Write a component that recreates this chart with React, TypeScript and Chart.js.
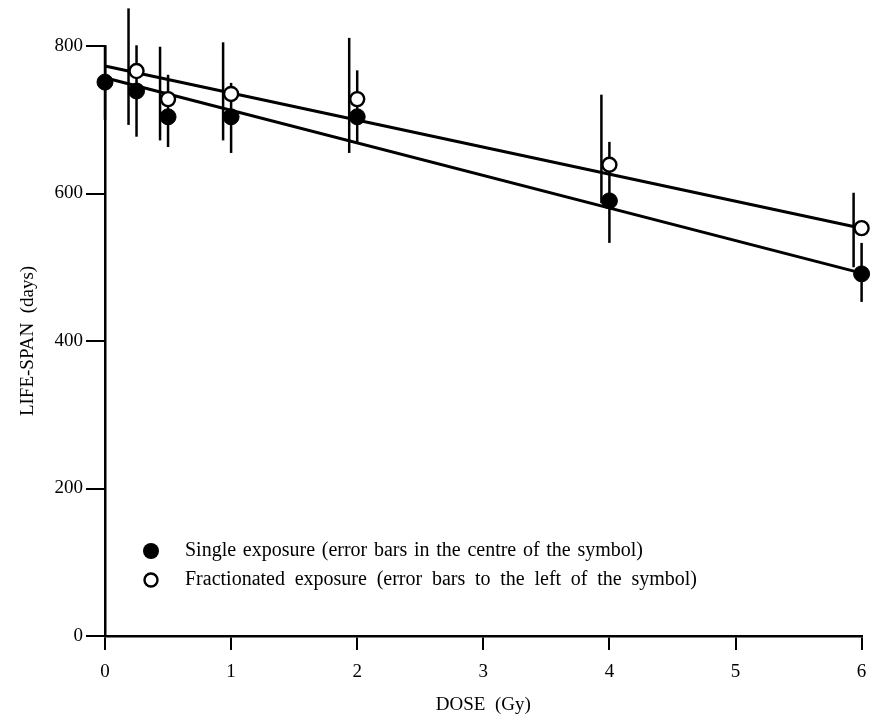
import React, { useEffect, useRef } from 'react';
import { Chart, registerables } from 'chart.js';

Chart.register(...registerables);

// ---- data ----
const doses = [0, 0.25, 0.5, 1, 2, 4, 6];
const singleMean = [751, 739, 704, 704, 704, 590, 491];
const singleUpper = [800, 801, 761, 750, 767, 670, 533];
const singleLower = [700, 677, 663, 655, 668, 533, 453];

const fracDoses = [0.25, 0.5, 1, 2, 4, 6];
const fracMean = [766, 728, 735, 728, 639, 553];
const fracUpper = [851, 799, 805, 811, 734, 601];
const fracLower = [693, 672, 672, 655, 587, 500];

const fitDoses = [0, 6];
const singleFit = [757, 492];
const fracFit = [773, 553];

const xTickValues = [0, 1, 2, 3, 4, 5, 6];
const yTickValues = [0, 200, 400, 600, 800];

const xTitle = 'DOSE  (Gy)';
const yTitle = 'LIFE-SPAN  (days)';
const legendLabels = [
  'Single exposure (error bars in the centre of the symbol)',
  'Fractionated exposure (error bars to the left of the symbol)',
];

const FONT = '"Liberation Serif", "DejaVu Serif", serif';
const LEGEND_WIDTHS = [458, 512];

const errorBarPlugin = {
  id: 'errorBars',
  beforeDatasetsDraw(chart: any) {
    const ctx = chart.ctx;
    const xs = chart.scales.x;
    const ys = chart.scales.y;
    ctx.save();
    ctx.strokeStyle = '#000';
    ctx.lineWidth = 2.5;
    ctx.lineCap = 'butt';
    doses.forEach((d, i) => {
      const px = xs.getPixelForValue(d);
      ctx.beginPath();
      ctx.moveTo(px, ys.getPixelForValue(singleUpper[i]));
      ctx.lineTo(px, ys.getPixelForValue(singleLower[i]));
      ctx.stroke();
    });
    fracDoses.forEach((d, i) => {
      const px = xs.getPixelForValue(d) - 8;
      ctx.beginPath();
      ctx.moveTo(px, ys.getPixelForValue(fracUpper[i]));
      ctx.lineTo(px, ys.getPixelForValue(fracLower[i]));
      ctx.stroke();
    });
    ctx.restore();
  },
};

const legendPlugin = {
  id: 'innerLegend',
  afterDraw(chart: any) {
    const ctx = chart.ctx;
    ctx.save();
    ctx.font = `20px ${FONT}`;
    ctx.textBaseline = 'middle';
    ctx.textAlign = 'left';
    const rows = [551, 580];
    ctx.fillStyle = '#000';
    ctx.beginPath();
    ctx.arc(151, rows[0], 8, 0, Math.PI * 2);
    ctx.fill();
    ctx.beginPath();
    ctx.arc(151, rows[1], 6.5, 0, Math.PI * 2);
    ctx.fillStyle = '#fff';
    ctx.fill();
    ctx.lineWidth = 2.4;
    ctx.strokeStyle = '#000';
    ctx.stroke();
    ctx.fillStyle = '#000';
    legendLabels.forEach((label, i) => {
      const words = label.split(' ');
      const natural = words.reduce((s, w) => s + ctx.measureText(w).width, 0);
      const gap = (LEGEND_WIDTHS[i] - natural) / (words.length - 1);
      let x = 185;
      words.forEach((w) => {
        ctx.fillText(w, x, rows[i]);
        x += ctx.measureText(w).width + gap;
      });
    });
    ctx.restore();
  },
};

export default function App() {
  const ref = useRef<HTMLCanvasElement>(null);

  useEffect(() => {
    document.body.style.margin = '0';
    const canvas = ref.current;
    if (!canvas) return;
    const chart = new Chart(canvas, {
      type: 'scatter',
      data: {
        datasets: [
          {
            label: 'Single exposure',
            data: doses.map((d, i) => ({ x: d, y: singleMean[i] })),
            pointRadius: 8,
            pointBackgroundColor: '#000',
            pointBorderColor: '#000',
            pointBorderWidth: 1,
            showLine: false,
            clip: false,
            order: 1,
          },
          {
            label: 'Fractionated exposure',
            data: fracDoses.map((d, i) => ({ x: d, y: fracMean[i] })),
            pointRadius: 7,
            pointBackgroundColor: '#fff',
            pointBorderColor: '#000',
            pointBorderWidth: 2.4,
            showLine: false,
            clip: false,
            order: 0,
          },
          {
            label: 'Single fit',
            data: fitDoses.map((d, i) => ({ x: d, y: singleFit[i] })),
            showLine: true,
            borderColor: '#000',
            borderWidth: 3,
            pointRadius: 0,
            clip: false,
            order: 2,
          },
          {
            label: 'Fractionated fit',
            data: fitDoses.map((d, i) => ({ x: d, y: fracFit[i] })),
            showLine: true,
            borderColor: '#000',
            borderWidth: 3,
            pointRadius: 0,
            clip: false,
            order: 3,
          },
        ],
      },
      options: {
        responsive: false,
        animation: false,
        layout: { padding: { left: 0, right: 7, top: 46, bottom: 0 } },
        plugins: {
          legend: { display: false },
          tooltip: { enabled: false },
        },
        scales: {
          x: {
            type: 'linear',
            min: 0,
            max: 6,
            afterBuildTicks: (scale: any) => {
              scale.ticks = xTickValues.map((v) => ({ value: v }));
            },
            afterFit: (scale: any) => {
              scale.height = 85;
              scale.paddingLeft = 0;
              scale.paddingRight = 0;
            },
            grid: {
              display: true,
              drawOnChartArea: false,
              drawTicks: true,
              tickLength: 14,
              color: '#000',
              lineWidth: 2,
            },
            border: { display: true, color: '#000', width: 2.5 },
            ticks: {
              color: '#000',
              font: { family: FONT, size: 19 },
              padding: 11,
              maxRotation: 0,
            },
            title: {
              display: true,
              text: xTitle,
              color: '#000',
              font: { family: FONT, size: 19 },
              padding: { top: 0, bottom: 5 },
            },
          },
          y: {
            type: 'linear',
            min: 0,
            max: 800,
            afterBuildTicks: (scale: any) => {
              scale.ticks = yTickValues.map((v) => ({ value: v }));
            },
            afterFit: (scale: any) => {
              scale.width = 105;
              scale.paddingTop = 0;
              scale.paddingBottom = 0;
            },
            grid: {
              display: true,
              drawOnChartArea: false,
              drawTicks: true,
              tickLength: 19,
              color: '#000',
              lineWidth: 2,
            },
            border: { display: true, color: '#000', width: 2.5 },
            ticks: {
              color: '#000',
              font: { family: FONT, size: 19 },
              padding: 3,
            },
            title: {
              display: true,
              text: yTitle,
              color: '#000',
              font: { family: FONT, size: 19 },
              padding: { top: 17, bottom: 0 },
            },
          },
        },
      },
      plugins: [errorBarPlugin, legendPlugin],
    } as any);
    return () => chart.destroy();
  }, []);

  return (
    <div style={{ width: 871, height: 721, background: '#fff' }}>
      <canvas ref={ref} width={871} height={721} style={{ display: 'block' }} />
    </div>
  );
}
